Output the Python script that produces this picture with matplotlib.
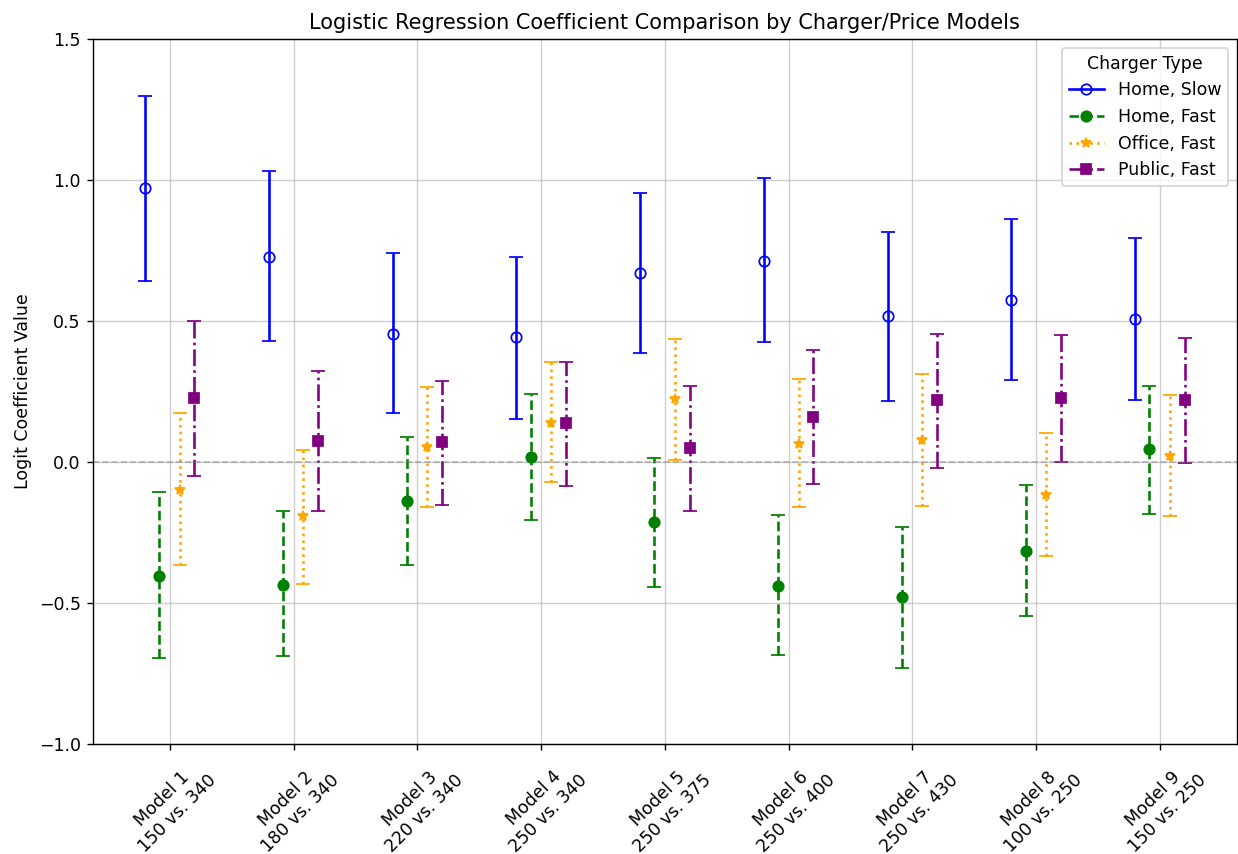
import matplotlib
matplotlib.use('Agg')
import matplotlib.pyplot as plt
import numpy as np
from matplotlib.lines import Line2D

models = ['Model 1\n150 vs. 340', 'Model 2\n180 vs. 340', 'Model 3\n220 vs. 340',
          'Model 4\n250 vs. 340', 'Model 5\n250 vs. 375', 'Model 6\n250 vs. 400',
          'Model 7\n250 vs. 430', 'Model 8\n100 vs. 250', 'Model 9\n150 vs. 250']

home_slow = [0.973, 0.728, 0.455, 0.442, 0.669, 0.713, 0.518, 0.576, 0.508]
home_slow_hi = [1.298, 1.032, 0.741, 0.727, 0.955, 1.008, 0.817, 0.861, 0.794]
home_slow_lo = [0.643, 0.428, 0.173, 0.151, 0.388, 0.424, 0.215, 0.290, 0.219]

home_fast = [-0.403, -0.435, -0.139, 0.018, -0.214, -0.439, -0.480, -0.315, 0.045]
home_fast_hi = [-0.108, -0.175, 0.088, 0.241, 0.013, -0.189, -0.229, -0.081, 0.271]
home_fast_lo = [-0.695, -0.687, -0.365, -0.205, -0.442, -0.684, -0.729, -0.545, -0.185]

office_fast = [-0.100, -0.193, 0.054, 0.138, 0.224, 0.065, 0.077, -0.118, 0.021]
office_fast_hi = [0.173, 0.044, 0.267, 0.353, 0.436, 0.294, 0.313, 0.103, 0.236]
office_fast_lo = [-0.365, -0.433, -0.161, -0.072, 0.008, -0.161, -0.157, -0.335, -0.193]

public_fast = [0.228, 0.076, 0.071, 0.138, 0.048, 0.161, 0.219, 0.226, 0.219]
public_fast_hi = [0.500, 0.321, 0.289, 0.356, 0.268, 0.396, 0.455, 0.452, 0.440]
public_fast_lo = [-0.051, -0.175, -0.153, -0.085, -0.174, -0.077, -0.023, 0.000, -0.005]

series = [
    ('Home, Slow', home_slow, home_slow_lo, home_slow_hi, 'blue', 'o', '-', -0.2),
    ('Home, Fast', home_fast, home_fast_lo, home_fast_hi, 'green', 'o', '--', -0.085),
    ('Office, Fast', office_fast, office_fast_lo, office_fast_hi, 'orange', '*', ':', 0.08),
    ('Public, Fast', public_fast, public_fast_lo, public_fast_hi, 'purple', 's', '-.', 0.2),
]

fig, ax = plt.subplots(figsize=(9.904, 6.832), dpi=125)
fig.subplots_adjust(left=0.0751, right=0.999, top=0.9543, bottom=0.1288)

x = np.arange(len(models))
handles = []
for label, y, lo, hi, color, marker, ls, off in series:
    y = np.array(y)
    yerr = [y - np.array(lo), np.array(hi) - y]
    face = 'none' if label == 'Home, Slow' else color
    eb = ax.errorbar(x + off, y, yerr=yerr, fmt=marker, color=color,
                     markerfacecolor=face, capsize=4, linestyle='none')
    eb[2][0].set_linestyle(ls)
    handles.append(Line2D([0], [0], color=color, marker=marker, linestyle=ls,
                          markerfacecolor=face, label=label))

ax.axhline(0, color='gray', linestyle='--', linewidth=1, alpha=0.5)
ax.set_ylim(-1.0, 1.5)
ax.set_xticks(x)
ax.set_xticklabels(models, rotation=45)
ax.set_ylabel('Logit Coefficient Value')
ax.set_title('Logistic Regression Coefficient Comparison by Charger/Price Models')
ax.grid(True, alpha=0.6)
ax.legend(handles=handles, title='Charger Type', loc='upper right')

plt.savefig('out.png', dpi=125)
